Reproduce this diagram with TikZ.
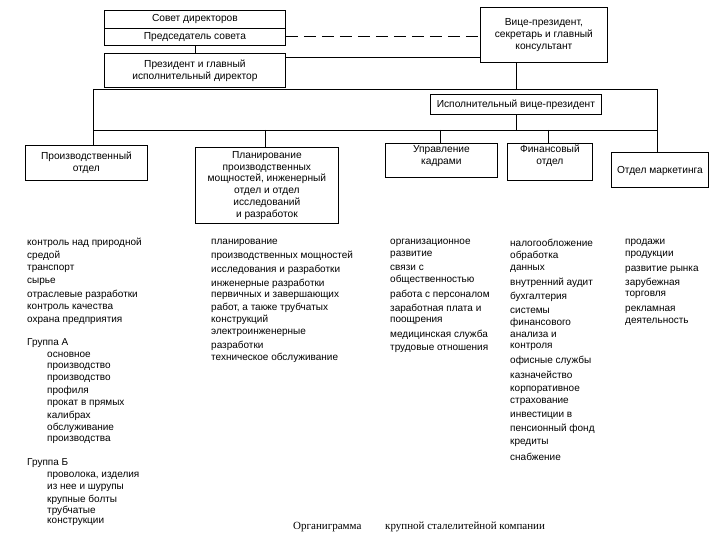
\documentclass[tikz,border=0pt]{standalone}
\usepackage{fontspec}
\setmainfont{Liberation Sans}
\newfontfamily\capfont{Liberation Serif}
\begin{document}
\begin{tikzpicture}[x=1pt,y=-1pt,
  box/.style={draw, line width=0.8pt, inner sep=0pt, anchor=north west},
  lbl/.style={font=\fontsize{10.2}{11.8}\selectfont, align=center, inner sep=0pt},
  item/.style={font=\fontsize{10}{11}\selectfont, anchor=west, inner sep=0pt},
  conn/.style={line width=0.8pt}]
\useasboundingbox (0,0) rectangle (720,540);
% top boxes
\node[box, minimum width=181pt, minimum height=18pt] (sovet) at (104,10) {};
\node[box, minimum width=181pt, minimum height=17pt] (chair) at (104,28) {};
\node[lbl] (sovet-t) at (sovet.center) {Совет директоров};
\node[lbl] (chair-t) at (chair.center) {Председатель совета};
\node[box, minimum width=181pt, minimum height=34pt] (pres) at (104,53) {};
\node[lbl] (pres-t) at (pres.center) {Президент и главный\\исполнительный директор};
\node[box, minimum width=127pt, minimum height=55pt] (vp) at (480,7) {};
\node[lbl] (vp-t) at (vp.center) {Вице-президент,\\секретарь и главный\\консультант};
\node[box, minimum width=171pt, minimum height=20pt] (evp) at (430,94) {};
\node[lbl] (evp-t) at (evp.center) {Исполнительный вице-президент};
% department boxes
\node[box, minimum width=122pt, minimum height=35pt] (prod) at (25,145) {};
\node[lbl] (prod-t) at (prod.center) {Производственный\\отдел};
\node[box, minimum width=143pt, minimum height=76pt] (plan) at (195,147) {};
\node[lbl, anchor=north] (plan-t) at ([yshift=-4pt]plan.north) {Планирование\\производственных\\мощностей, инженерный\\отдел и отдел\\исследований\\и разработок};
\node[box, minimum width=112pt, minimum height=34pt] (hr) at (385,143) {};
\node[lbl, anchor=north] (hr-t) at ([yshift=-2pt]hr.north) {Управление\\кадрами};
\node[box, minimum width=85pt, minimum height=37pt] (fin) at (507,143) {};
\node[lbl, anchor=north] (fin-t) at ([yshift=-2pt]fin.north) {Финансовый\\отдел};
\node[box, minimum width=97pt, minimum height=35pt] (mkt) at (611,152) {};
\node[lbl] (mkt-t) at ([yshift=-1pt]mkt.center) {Отдел маркетинга};
% connector points
\coordinate (b1l) at (93,89);
\coordinate (b1r) at (657,89);
\coordinate (b2l) at (93,130);
\coordinate (b2r) at (657,130);
% connectors
\draw[line width=0.5pt] (chair.south -| 195,0) -- (pres.north -| 195,0);
\draw[conn, dash pattern=on 12pt off 6pt] (chair.east) -- (vp.west |- chair.east);
\draw[conn] (pres.east |- 0,57) -- (vp.west |- 0,57);
\draw[conn] (b1l) -- (b1r);
\draw[conn] (b2l) -- (b2r);
\draw[conn] (b1l) -- (prod.north -| b1l);
\draw[conn] (b1r) -- (mkt.north -| b1r);
\draw[conn] (vp.south -| 516,0) -- (b1r -| 516,0);
\draw[conn] (evp.south -| 516,0) -- (b2r -| 516,0);
\draw[conn] (b2l -| 265,0) -- (plan.north -| 265,0);
\draw[conn] (b2l -| 440,0) -- (hr.north -| 440,0);
\draw[conn] (b2l -| 548,0) -- (fin.north -| 548,0);
% column 1
\foreach \t/\y [count=\i] in {контроль над природной/243, средой/256, транспорт/269, сырье/282, отраслевые разработки/295, контроль качества/308, охрана предприятия/321, Группа А/343, Группа Б/463}
  \node[item] (a\i) at (27,\y) {\t};
\foreach \t/\y [count=\i] in {основное/355, производство/367, производство/379, профиля/391, прокат в прямых/404, калибрах/416, обслуживание/428, производства/440, {проволока, изделия}/476, из нее и шурупы/488, крупные болты/500, трубчатые/511, конструкции/522}
  \node[item] (g\i) at (47,\y) {\t};
% column 2
\foreach \t/\y [count=\i] in {планирование/243, производственных мощностей/256, исследования и разработки/270, инженерные разработки/284, первичных и завершающих/296, {работ, а также трубчатых}/308, конструкций/320, электроинженерные/333, разработки/346, техническое обслуживание/358}
  \node[item] (b\i) at (211,\y) {\t};
% column 3
\foreach \t/\y [count=\i] in {организационное/243, развитие/255, связи с/268, общественностью/280, работа с персоналом/295, заработная плата и/309, поощрения/321, медицинская служба/335, трудовые отношения/349}
  \node[item] (c\i) at (390,\y) {\t};
% column 4
\foreach \t/\y [count=\i] in {налогообложение/243, обработка/256, данных/269, внутренний аудит/283, бухгалтерия/297, системы/311, финансового/323, анализа и/335, контроля/347, офисные службы/361, казначейство/375, корпоративное/390, страхование/402, инвестиции в/416, пенсионный фонд/429, кредиты/443, снабжение/457}
  \node[item] (d\i) at (510,\y) {\t};
% column 5
\foreach \t/\y [count=\i] in {продажи/243, продукции/255, развитие рынка/270, зарубежная/283, торговля/295, рекламная/310, деятельность/322}
  \node[item] (e\i) at (625,\y) {\t};
% caption
\node[item, font=\capfont\fontsize{11}{13}\selectfont] (cap1) at (293,527) {Органиграмма};
\node[item, font=\capfont\fontsize{11}{13}\selectfont] (cap2) at (385,527) {крупной сталелитейной компании};
\end{tikzpicture}
\end{document}
